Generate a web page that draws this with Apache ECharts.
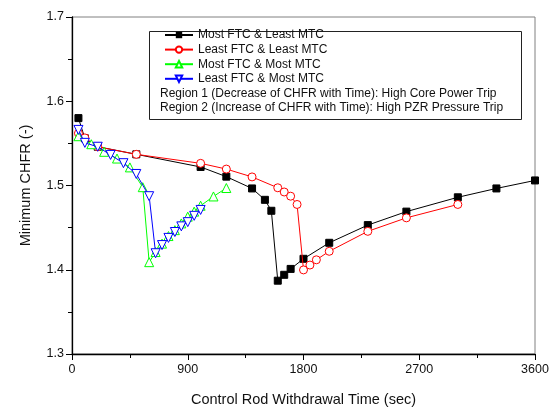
<!DOCTYPE html>
<html>
<head>
<meta charset="utf-8">
<script src="https://cdn.jsdelivr.net/npm/echarts@6/dist/echarts.min.js"></script>
<style>
  html, body { margin: 0; padding: 0; background: #fff; }
  #chart { width: 558px; height: 412px; }
</style>
</head>
<body>
<div id="chart"></div>
<script>
// series values
const seriesNames = ['Most FTC & Least MTC', 'Least FTC & Least MTC', 'Most FTC & Most MTC', 'Least FTC & Most MTC']

const timeMostLeast = [50, 100, 200, 500, 1000, 1200, 1400, 1500, 1550, 1600, 1650, 1700, 1800, 2000, 2300, 2600, 3000, 3300, 3600]
const chfrMostLeast = [1.580, 1.556, 1.546, 1.537, 1.522, 1.5105, 1.4965, 1.483, 1.470, 1.387, 1.394, 1.401, 1.413, 1.432, 1.453, 1.469, 1.486, 1.4965, 1.506]

const timeLeastLeast = [50, 100, 200, 500, 1000, 1200, 1400, 1600, 1650, 1700, 1750, 1800, 1850, 1900, 2000, 2300, 2600, 3000]
const chfrLeastLeast = [1.562, 1.5565, 1.546, 1.537, 1.5263, 1.5195, 1.5102, 1.4973, 1.4923, 1.4873, 1.4775, 1.3998, 1.4056, 1.4118, 1.4219, 1.4456, 1.4616, 1.4775]

const timeMostMost = [50, 150, 250, 350, 450, 550, 600, 650, 700, 750, 800, 850, 900, 950, 1000, 1100, 1200]
const chfrMostMost = [1.5585, 1.549, 1.540, 1.532, 1.5215, 1.498, 1.409, 1.421, 1.431, 1.440, 1.447, 1.455, 1.463, 1.469, 1.476, 1.487, 1.497]

const timeLeastMost = [50, 100, 200, 300, 400, 500, 600, 650, 700, 750, 800, 850, 900, 950, 1000]
const chfrLeastMost = [1.566, 1.5506, 1.546, 1.5363, 1.5265, 1.5137, 1.4873, 1.4196, 1.4293, 1.4378, 1.4448, 1.4515, 1.4565, 1.464, 1.471]

const regionNotes = [
  'Region 1 (Decrease of CHFR with Time): High Core Power Trip',
  'Region 2 (Increase of CHFR with Time): High PZR Pressure Trip'
]

const pair = (xs, ys) => xs.map((x, i) => [x, ys[i]])

const chart = echarts.init(document.getElementById('chart'))
const font = 'Arial, "Liberation Sans", sans-serif'

const lineSeries = (name, data, color, symbol, size, extra) => Object.assign({
  name: name,
  type: 'line',
  data: data,
  symbol: symbol,
  symbolSize: size,
  showAllSymbol: true,
  animation: false,
  lineStyle: { color: color, width: 1 },
  itemStyle: { color: '#fff', borderColor: color, borderWidth: 1 }
}, extra || {})

const option = {
  animation: false,
  grid: {
    left: 72, right: 23, top: 17, bottom: 53,
    show: true, borderColor: '#808080', borderWidth: 1
  },
  legend: {
    orient: 'vertical',
    left: 159, top: 24,
    itemWidth: 28, itemHeight: 8, itemGap: 2.6,
    textStyle: { fontFamily: font, fontSize: 12, color: '#111' },
    data: seriesNames
  },
  xAxis: {
    type: 'value', min: 0, max: 3600, interval: 900,
    name: 'Control Rod Withdrawal Time (sec)',
    nameLocation: 'middle', nameGap: 38,
    nameTextStyle: { fontFamily: font, fontSize: 14.5, color: '#111' },
    axisLine: { onZero: false, lineStyle: { color: '#000', width: 1.3 } },
    axisTick: { length: 6, lineStyle: { color: '#000' } },
    minorTick: { show: true, splitNumber: 2, length: 4, lineStyle: { color: '#000' } },
    splitLine: { show: false },
    axisLabel: { fontFamily: font, fontSize: 12.5, color: '#111', margin: 9, formatter: v => String(v) }
  },
  yAxis: {
    type: 'value', min: 1.3, max: 1.7, interval: 0.1,
    name: 'Minimum CHFR (-)',
    nameLocation: 'middle', nameGap: 39,
    nameTextStyle: { fontFamily: font, fontSize: 14.5, color: '#111' },
    axisLine: { show: true, onZero: false, lineStyle: { color: '#000', width: 1.3 } },
    axisTick: { show: true, length: 6, lineStyle: { color: '#000' } },
    minorTick: { show: true, splitNumber: 2, length: 4, lineStyle: { color: '#000' } },
    splitLine: { show: false },
    axisLabel: { fontFamily: font, fontSize: 12.5, color: '#111', margin: 8, formatter: v => v.toFixed(1) }
  },
  graphic: [
    {
      type: 'rect', left: 149, top: 31, z: 0,
      shape: { width: 372, height: 88 },
      style: { fill: '#fff', stroke: '#222', lineWidth: 1 }
    },
    {
      type: 'text', left: 160, top: 87.5, z: 10,
      style: { text: regionNotes[0], font: '12px ' + font, fill: '#111' }
    },
    {
      type: 'text', left: 160, top: 102, z: 10,
      style: { text: regionNotes[1], font: '12px ' + font, fill: '#111' }
    }
  ],
  series: [
    lineSeries(seriesNames[0], pair(timeMostLeast, chfrMostLeast), '#000', 'rect', 7,
      { itemStyle: { color: '#000', borderColor: '#000' }, z: 2 }),
    lineSeries(seriesNames[1], pair(timeLeastLeast, chfrLeastLeast), '#ff0000', 'circle', 8, { z: 3 }),
    lineSeries(seriesNames[2], pair(timeMostMost, chfrMostMost), '#00ff00', 'triangle', 9, { z: 4 }),
    lineSeries(seriesNames[3], pair(timeLeastMost, chfrLeastMost), '#0000ff', 'triangle', 9, { symbolRotate: 180, z: 5 })
  ]
}

chart.setOption(option)

window.addEventListener('resize', () => {
  chart.resize()
})
</script>
</body>
</html>
